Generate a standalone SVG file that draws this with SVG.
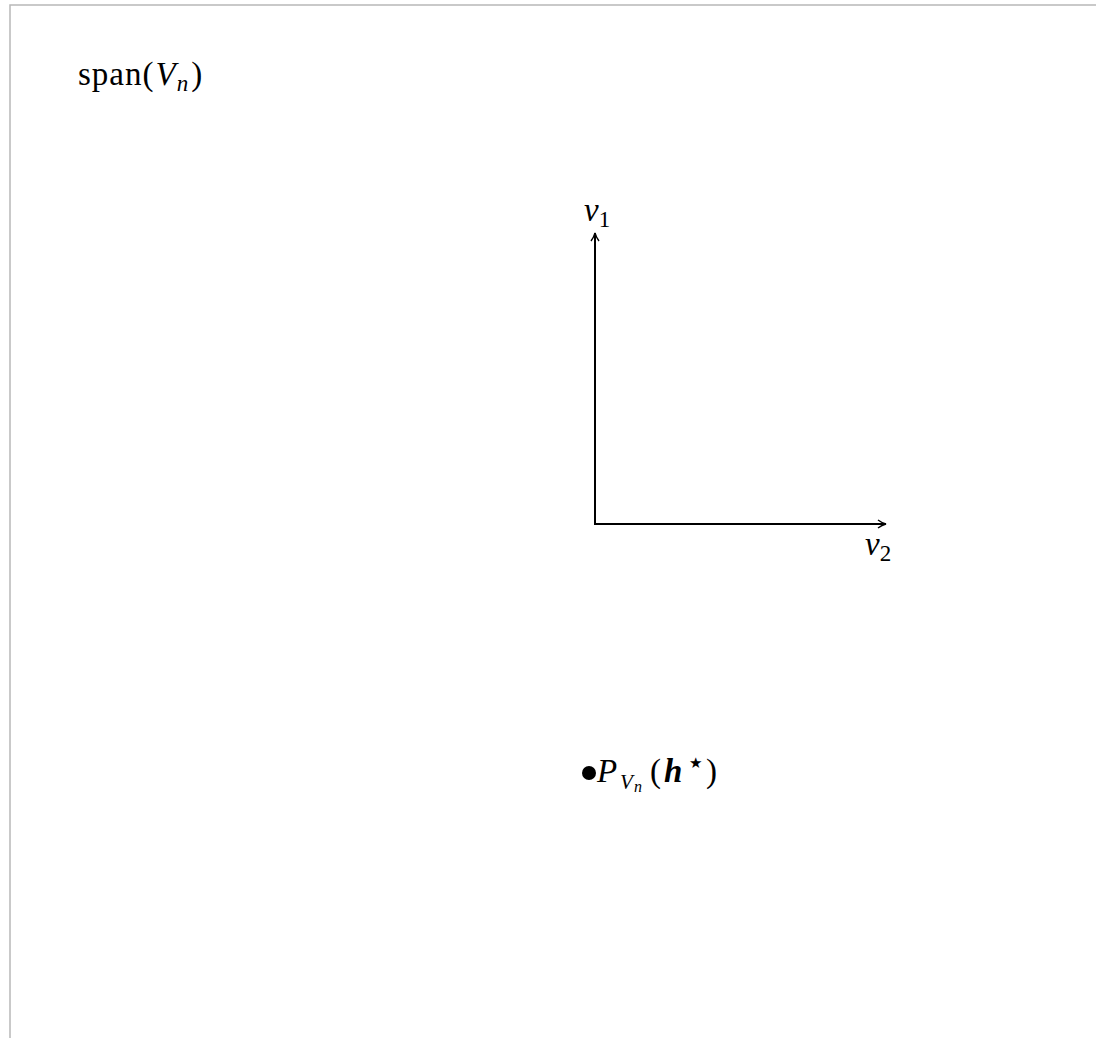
<svg xmlns="http://www.w3.org/2000/svg" width="1096" height="1038" viewBox="0 0 1096 1038">
<style>
.t{font-family:"Liberation Serif","DejaVu Serif",serif;font-size:33px;fill:#000}
.i{font-style:italic}
.ax{stroke:#000;stroke-width:2;fill:none}
</style>
<defs>
<marker id="ah" viewBox="0 0 10 10" refX="9" refY="5" markerWidth="10" markerHeight="10" markerUnits="userSpaceOnUse" orient="auto">
<path d="M1,1 Q5,4 9,5 Q5,6 1,9" fill="none" stroke="#000" stroke-width="1.4"/>
</marker>
</defs>
<rect width="1096" height="1038" fill="#fff"/>
<path d="M10,1038 V5 H1096" fill="none" stroke="#b8b8b8" stroke-width="1.5"/>
<g id="span-label"><text class="t" x="78" y="85" letter-spacing="1">span(<tspan class="i" dx="1">V</tspan><tspan class="i" font-size="23" dy="6">n</tspan><tspan dx="2" dy="-6">)</tspan></text></g>
<g id="connectors">
<line class="ax" x1="595" y1="524" x2="595" y2="233" marker-end="url(#ah)"/>
<line class="ax" x1="594" y1="524" x2="886" y2="524" marker-end="url(#ah)"/>
</g>
<g id="v1"><text class="t" x="584" y="221"><tspan class="i">v</tspan><tspan font-size="23" dy="6">1</tspan></text></g>
<g id="v2"><text class="t" x="865" y="555"><tspan class="i">v</tspan><tspan font-size="23" dy="6">2</tspan></text></g>
<g id="projection">
<circle cx="589" cy="773" r="7" fill="#000"/>
<text class="t" y="782" font-size="35"><tspan class="i" x="597">P</tspan><tspan class="i" font-size="21" x="620" dy="7">V</tspan><tspan class="i" font-size="16" x="634" dy="3">n</tspan><tspan x="650" dy="-10">(</tspan><tspan class="i" font-weight="bold" x="664">h</tspan><tspan font-family="DejaVu Sans" font-size="15" x="689" dy="-14">★</tspan><tspan x="706" dy="14">)</tspan></text>
</g>
</svg>
